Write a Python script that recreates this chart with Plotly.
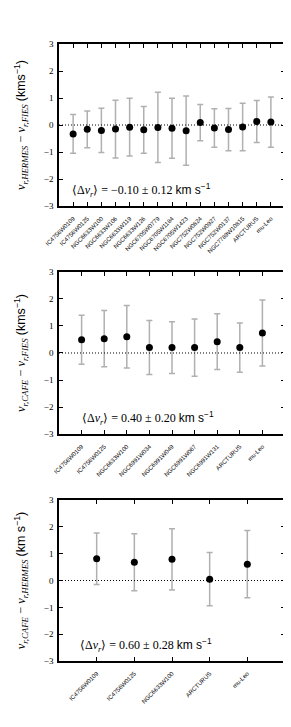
import plotly.graph_objects as go

# Panel 1: HERMES - FIES
names1 = ["IC4756W0109", "IC4756W0125", "NGC6633W100", "NGC6633W106", "NGC6633W119",
          "NGC6633W126", "NGC6705W0779", "NGC6705W1184", "NGC6705W1423", "NGC752W0824",
          "NGC752W0927", "NGC752W0137", "NGC7789W10815", "ARCTURUS", "mu-Leo"]
dv1 = [-0.33, -0.16, -0.20, -0.15, -0.08, -0.18, -0.09, -0.12, -0.21, 0.09,
       -0.11, -0.17, -0.07, 0.13, 0.11]
err1 = [0.72, 0.68, 0.82, 1.07, 1.07, 0.87, 1.30, 1.11, 1.28, 0.67,
        0.71, 0.78, 0.88, 0.78, 0.93]

# Panel 2: CAFE - FIES
names2 = ["IC4756W0109", "IC4756W0125", "NGC6633W100", "NGC6991W034", "NGC6991W049",
          "NGC6991W067", "NGC6991W131", "ARCTURUS", "mu-Leo"]
dv2 = [0.49, 0.53, 0.60, 0.20, 0.20, 0.20, 0.42, 0.20, 0.74]
err2 = [0.91, 1.04, 1.16, 1.00, 0.96, 1.06, 1.03, 0.91, 1.22]

# Panel 3: CAFE - HERMES
names3 = ["IC4756W0109", "IC4756W0125", "NGC6633W100", "ARCTURUS", "mu-Leo"]
dv3 = [0.81, 0.68, 0.79, 0.05, 0.61]
err3 = [0.96, 1.06, 1.14, 0.99, 1.25]

means = ["\u27e8\u0394<i>v</i><sub><i>r</i></sub>\u27e9 = \u22120.10 \u00b1 0.12 <span style='font-family:Liberation Sans'>km s<sup>\u22121</sup></span>",
         "\u27e8\u0394<i>v</i><sub><i>r</i></sub>\u27e9 = 0.40 \u00b1 0.20 <span style='font-family:Liberation Sans'>km s<sup>\u22121</sup></span>",
         "\u27e8\u0394<i>v</i><sub><i>r</i></sub>\u27e9 = 0.60 \u00b1 0.28 <span style='font-family:Liberation Sans'>km s<sup>\u22121</sup></span>"]

ytitles = ["<i>v</i><sub><i>r,HERMES</i></sub> \u2212 <i>v</i><sub><i>r,FIES</i></sub> <span style='font-family:Liberation Sans'>(kms<sup>\u22121</sup>)</span>",
           "<i>v</i><sub><i>r,CAFE</i></sub> \u2212 <i>v</i><sub><i>r,FIES</i></sub> <span style='font-family:Liberation Sans'>(kms<sup>\u22121</sup>)</span>",
           "<i>v</i><sub><i>r,CAFE</i></sub> \u2212 <i>v</i><sub><i>r,HERMES</i></sub> <span style='font-family:Liberation Sans'>(km s<sup>\u22121</sup>)</span>"]

panels = [(names1, dv1, err1), (names2, dv2, err2), (names3, dv3, err3)]
domains = [[0.7374, 1.0], [0.3679, 0.6305], [0.0, 0.2609]]
ann_x = [0.05, 0.094, 0.085]

W, H = 291, 727
fig = go.Figure()
layout = dict(width=W, height=H, margin=dict(l=43, r=14, t=36, b=74),
              plot_bgcolor="white", paper_bgcolor="white", showlegend=False)
shapes = []
annotations = []
for i, (names, dv, err) in enumerate(panels):
    k = "" if i == 0 else str(i + 1)
    xs = list(range(len(names)))
    fig.add_trace(go.Scatter(
        x=xs, y=dv, mode="markers", xaxis="x" + k, yaxis="y" + k,
        marker=dict(color="black", size=7),
        error_y=dict(type="data", array=err, visible=True, color="#b0b0b0",
                     thickness=1.5, width=3),
        hoverinfo="skip"))
    layout["xaxis" + k] = dict(
        domain=[0, 1], anchor="y" + k, range=[-1, len(names)],
        tickmode="array", tickvals=xs, ticktext=names, tickangle=-45,
        ticks="inside", ticklen=4, tickwidth=1, tickcolor="black",
        ticklabelstandoff=5,
        showline=True, linecolor="black", linewidth=1.5, mirror="allticks",
        showgrid=False, zeroline=False,
        tickfont=dict(family="Liberation Sans", size=6, color="black"))
    layout["yaxis" + k] = dict(
        domain=domains[i], anchor="x" + k, range=[-3, 3],
        tickmode="array", tickvals=[-3, -2, -1, 0, 1, 2, 3],
        ticktext=["\u22123", "\u22122", "\u22121", "0", "1", "2", "3"],
        ticks="inside", ticklen=4, tickwidth=1, tickcolor="black",
        ticklabelstandoff=2,
        showline=True, linecolor="black", linewidth=1.5, mirror="allticks",
        showgrid=False, zeroline=False,
        tickfont=dict(family="Liberation Serif", size=9, color="black"),
        title=dict(text=ytitles[i], standoff=15,
                   font=dict(family="Liberation Serif", size=12.5, color="black")))
    shapes.append(dict(type="line", xref="x" + k + " domain", yref="y" + k,
                       x0=0, x1=1, y0=0, y1=0,
                       line=dict(color="black", width=1, dash="1px,2px")))
    annotations.append(dict(text=means[i], xref="x" + k + " domain", yref="y" + k,
                            x=ann_x[i], y=-2.4, xanchor="left", yanchor="middle",
                            showarrow=False,
                            font=dict(family="Liberation Serif", size=12, color="black")))
layout["shapes"] = shapes
layout["annotations"] = annotations
fig.update_layout(**layout)
fig.write_html("out.html")
